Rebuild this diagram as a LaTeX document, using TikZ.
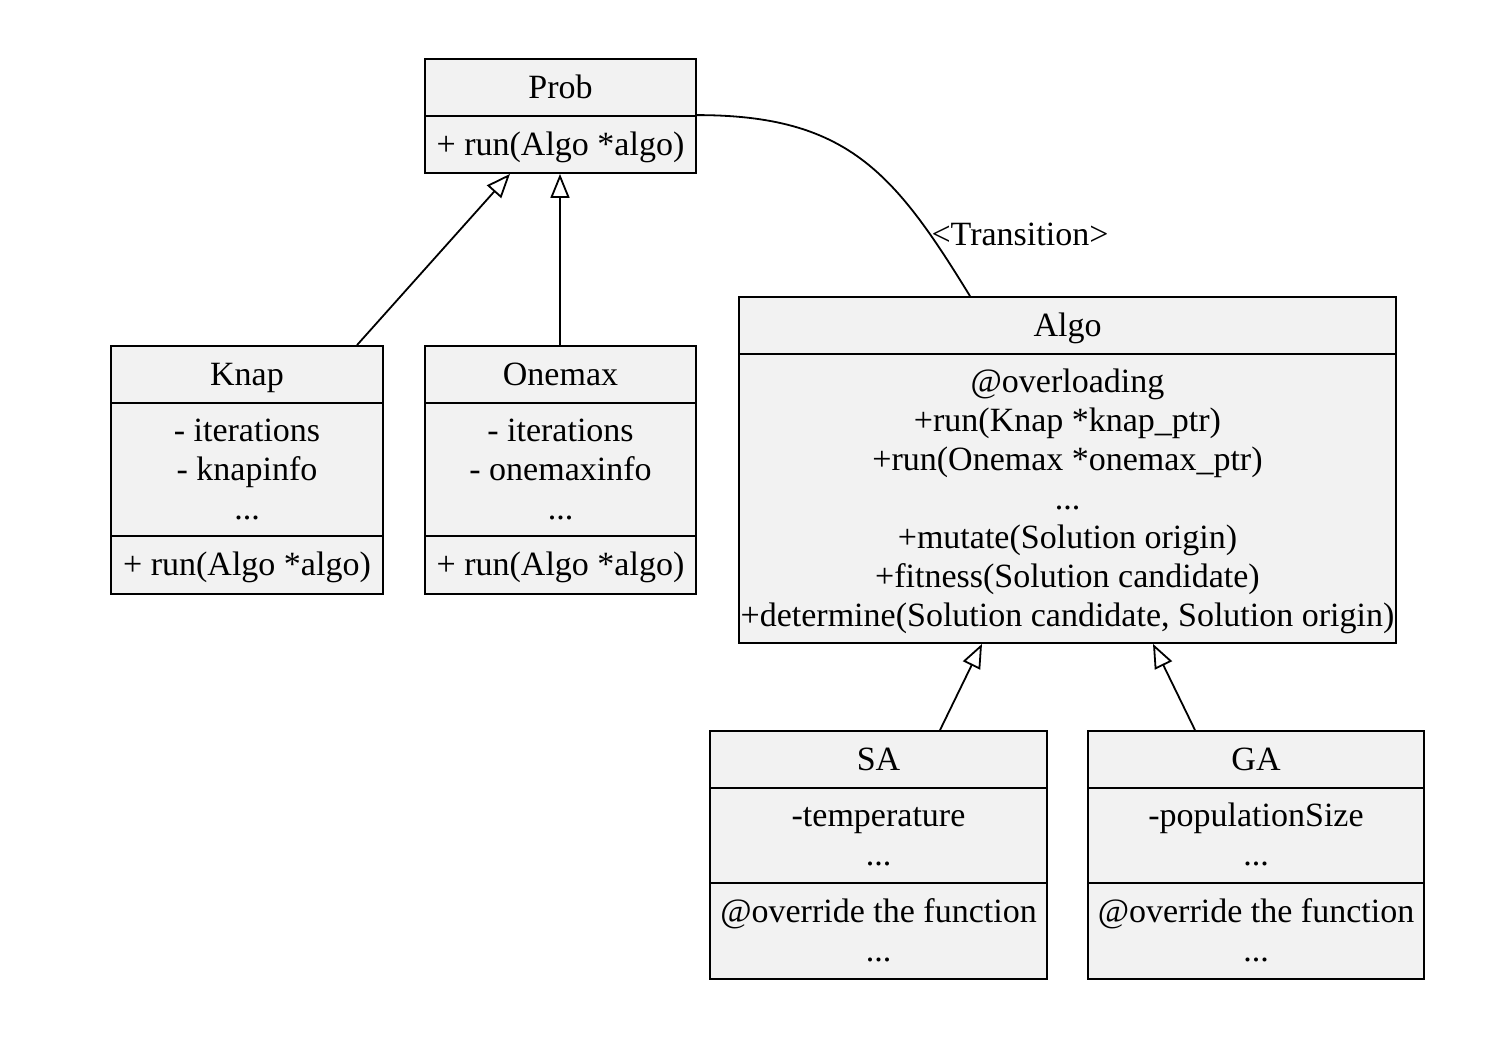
\documentclass[tikz,border=0pt]{standalone}
\usepackage{fontspec}
\setmainfont{Liberation Serif}
\usetikzlibrary{arrows.meta}
\definecolor{boxfill}{HTML}{F2F2F2}
\newcommand\ustrut{\rule[-4.5pt]{0pt}{19.5pt}}
\begin{document}
\begin{tikzpicture}[x=0.5pt,y=-0.5pt,
  comp/.style={draw=black, line width=0.9pt, fill=boxfill, rectangle, inner sep=0pt, align=center,
    font=\fontsize{17}{19.5}\selectfont, anchor=center},
  inh/.style={line width=0.9pt, -{Triangle[open, length=12pt, width=9.5pt, line width=0.9pt]}},
  assoc/.style={line width=0.9pt}]
\useasboundingbox (0,0) rectangle (1512,1060);
% Prob
\node[comp, minimum width=135.5pt, minimum height=28.5pt] (probT) at (560.5,87.5) {\ustrut Prob};
\node[comp, minimum width=135.5pt, minimum height=28.5pt] (probM) at (560.5,144.5) {\ustrut + run(Algo *algo)};
% Knap
\node[comp, minimum width=136pt, minimum height=28.5pt] (knapT) at (247,374.5) {\ustrut Knap};
\node[comp, minimum width=136pt, minimum height=66.5pt] (knapA) at (247,469.5) {\ustrut - iterations\\\ustrut - knapinfo\\\ustrut ...};
\node[comp, minimum width=136pt, minimum height=29pt] (knapM) at (247,565) {\ustrut + run(Algo *algo)};
% Onemax
\node[comp, minimum width=135.5pt, minimum height=28.5pt] (oneT) at (560.5,374.5) {\ustrut Onemax};
\node[comp, minimum width=135.5pt, minimum height=66.5pt] (oneA) at (560.5,469.5) {\ustrut - iterations\\\ustrut - onemaxinfo\\\ustrut ...};
\node[comp, minimum width=135.5pt, minimum height=29pt] (oneM) at (560.5,565) {\ustrut + run(Algo *algo)};
% Algo
\node[comp, minimum width=328.5pt, minimum height=28.5pt] (algoT) at (1067.5,325.5) {\ustrut Algo};
\node[comp, minimum width=328.5pt, minimum height=144.5pt] (algoB) at (1067.5,498.5)
  {\ustrut @overloading\\\ustrut +run(Knap *knap\_ptr)\\\ustrut +run(Onemax *onemax\_ptr)\\\ustrut ...\\\ustrut +mutate(Solution origin)\\\ustrut +fitness(Solution candidate)\\\ustrut +determine(Solution candidate, Solution origin)};
% SA
\node[comp, minimum width=168.5pt, minimum height=28.5pt] (saT) at (878.5,759.5) {\ustrut SA};
\node[comp, minimum width=168.5pt, minimum height=47.5pt] (saA) at (878.5,835.5) {\ustrut -temperature\\\ustrut ...};
\node[comp, minimum width=168.5pt, minimum height=48pt] (saM) at (878.5,931) {\ustrut @override the function\\\ustrut ...};
% GA
\node[comp, minimum width=168pt, minimum height=28.5pt] (gaT) at (1256,759.5) {\ustrut GA};
\node[comp, minimum width=168pt, minimum height=47.5pt] (gaA) at (1256,835.5) {\ustrut -populationSize\\\ustrut ...};
\node[comp, minimum width=168pt, minimum height=48pt] (gaM) at (1256,931) {\ustrut @override the function\\\ustrut ...};
% inheritance
\draw[inh] ([xshift=55pt]knapT.north) -- ([xshift=-25.25pt]probM.south);
\draw[inh] ([xshift=-0.25pt]oneT.north) -- ([xshift=-0.25pt]probM.south);
\draw[inh] ([xshift=30.75pt]saT.north) -- ([xshift=-42.75pt]algoB.south);
\draw[inh] ([xshift=-30.5pt]gaT.north) -- ([xshift=42.75pt]algoB.south);
% transition
\draw[assoc] (probM.north east) .. controls +(75pt,0) and +(-38pt,62pt) .. ([xshift=-48.75pt]algoT.north);
\node[font=\fontsize{17}{19.5}\selectfont, inner sep=0pt] (trans) at (1020,235) {\ustrut <Transition>};
\end{tikzpicture}
\end{document}
